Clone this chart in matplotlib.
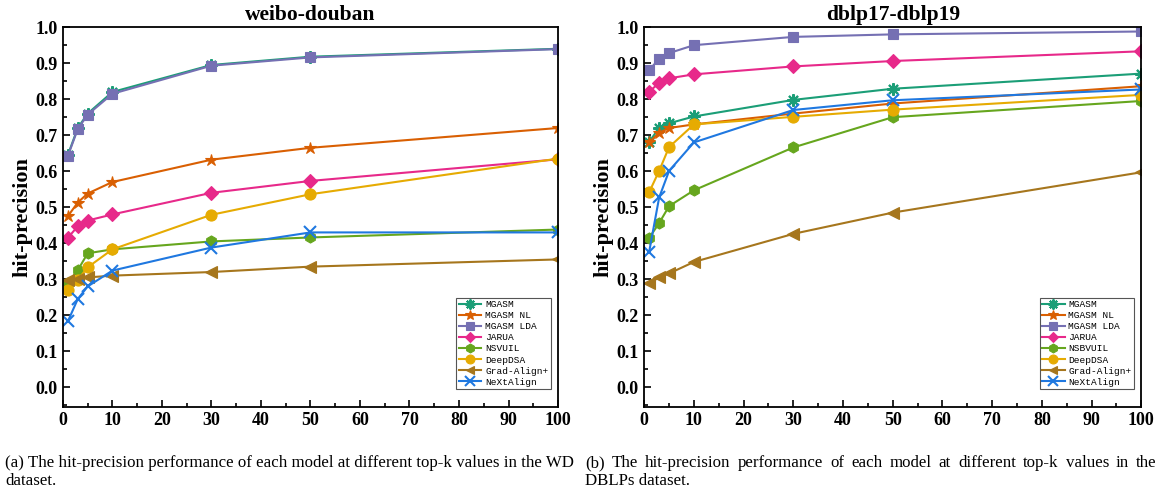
import matplotlib
matplotlib.use("Agg")
import matplotlib.pyplot as plt
from matplotlib.ticker import MultipleLocator, FormatStrFormatter

topk = [1, 3, 5, 10, 30, 50, 100]

wd_labels = ["MGASM", "MGASM NL", "MGASM LDA", "JARUA", "NSVUIL", "DeepDSA", "Grad-Align+", "NeXtAlign"]
wd_mgasm = [0.645, 0.720, 0.760, 0.820, 0.895, 0.918, 0.940]
wd_mgasm_nl = [0.475, 0.513, 0.538, 0.570, 0.632, 0.665, 0.720]
wd_mgasm_lda = [0.642, 0.717, 0.757, 0.815, 0.893, 0.916, 0.939]
wd_jarua = [0.415, 0.447, 0.463, 0.480, 0.540, 0.573, 0.633]
wd_nsvuil = [0.290, 0.325, 0.372, 0.383, 0.405, 0.416, 0.438]
wd_deepdsa = [0.270, 0.298, 0.333, 0.383, 0.479, 0.536, 0.635]
wd_grad = [0.298, 0.301, 0.305, 0.310, 0.320, 0.335, 0.355]
wd_next = [0.183, 0.245, 0.280, 0.324, 0.388, 0.430, 0.430]

db_labels = ["MGASM", "MGASM NL", "MGASM LDA", "JARUA", "NSBVUIL", "DeepDSA", "Grad-Align+", "NeXtAlign"]
db_mgasm = [0.682, 0.720, 0.733, 0.752, 0.798, 0.829, 0.871]
db_mgasm_nl = [0.680, 0.707, 0.720, 0.730, 0.760, 0.788, 0.836]
db_mgasm_lda = [0.882, 0.911, 0.928, 0.950, 0.973, 0.980, 0.988]
db_jarua = [0.821, 0.845, 0.858, 0.869, 0.891, 0.906, 0.933]
db_nsbvuil = [0.415, 0.456, 0.503, 0.547, 0.666, 0.750, 0.795]
db_deepdsa = [0.542, 0.601, 0.667, 0.730, 0.751, 0.771, 0.812]
db_grad = [0.289, 0.305, 0.316, 0.348, 0.426, 0.485, 0.597]
db_next = [0.377, 0.527, 0.601, 0.680, 0.770, 0.797, 0.827]

caption_a = ["(a) The hit-precision performance of each model at different top-k values in the WD", "dataset."]
caption_b = ["(b) The hit-precision performance of each model at different top-k values in the", "DBLPs dataset."]

colors = ["#1b9e77", "#d95f02", "#7570b3", "#e7298a", "#66a61e", "#e6ab02", "#a6761d", "#1f78e0"]
markers = [(8, 2, 0), "*", "s", "D", "h", "o", "<", "x"]
msizes = [9, 9, 7, 7, 8, 8, 8, 9]

plt.rcParams['font.family'] = ['Liberation Serif', 'DejaVu Serif']

fig = plt.figure(figsize=(11.65, 4.94), dpi=100)
ax1 = fig.add_axes([0.054, 0.176, 0.425, 0.769])
ax2 = fig.add_axes([0.553, 0.176, 0.4266, 0.769])

panels = [
    (ax1, "weibo-douban", wd_labels, [wd_mgasm, wd_mgasm_nl, wd_mgasm_lda, wd_jarua, wd_nsvuil, wd_deepdsa, wd_grad, wd_next]),
    (ax2, "dblp17-dblp19", db_labels, [db_mgasm, db_mgasm_nl, db_mgasm_lda, db_jarua, db_nsbvuil, db_deepdsa, db_grad, db_next]),
]

for ax, title, labels, series in panels:
    for lab, ys, c, m, ms in zip(labels, series, colors, markers, msizes):
        ax.plot(topk, ys, color=c, marker=m, markersize=ms, linewidth=1.5,
                markeredgewidth=1.5 if m in ("x", (8, 2, 0)) else 0.8, label=lab)
    ax.set_xlim(0, 100)
    ax.set_ylim(-0.055, 1.0)
    ax.xaxis.set_major_locator(MultipleLocator(10))
    ax.xaxis.set_minor_locator(MultipleLocator(5))
    ax.yaxis.set_major_locator(MultipleLocator(0.1))
    ax.yaxis.set_minor_locator(MultipleLocator(0.05))
    ax.tick_params(which="both", direction="in", top=False, right=False, width=1.2)
    ax.tick_params(which="major", length=5, labelsize=13)
    ax.tick_params(which="minor", length=3)
    ax.tick_params(axis="y", pad=4)
    ax.yaxis.set_major_formatter(FormatStrFormatter("%.1f"))
    for lbl in ax.get_xticklabels() + ax.get_yticklabels():
        lbl.set_fontweight("bold")
    for sp in ax.spines.values():
        sp.set_linewidth(1.3)
    ax.set_title(title, fontsize=15.5, fontweight="bold", pad=5)
    ax.set_ylabel("hit-precision", fontsize=16, fontweight="bold", labelpad=2)
    leg = ax.legend(loc="lower right", bbox_to_anchor=(0.995, 0.035),
                    prop={"family": "Liberation Mono", "size": 6.8},
                    fancybox=False, edgecolor="#555555", framealpha=1,
                    handlelength=2.4, handletextpad=0.4, labelspacing=0.22,
                    borderpad=0.25, markerscale=0.8)
    leg.get_frame().set_linewidth(0.8)

cap_fs = 12.2
y1 = 1 - 463 / 494
y2 = 1 - 481 / 494

fig.text(5 / 1165, y1, caption_a[0], fontsize=cap_fs, ha="left", va="center")
fig.text(5 / 1165, y2, caption_a[1], fontsize=cap_fs, ha="left", va="center")

# justified first line for caption (b)
fig.canvas.draw()
renderer = fig.canvas.get_renderer()
words = caption_b[0].split(" ")
x_start, x_end = 585, 1157
widths = []
for w in words:
    t = fig.text(0, 0, w, fontsize=cap_fs)
    bb = t.get_window_extent(renderer=renderer)
    widths.append(bb.width)
    t.remove()
gap = (x_end - x_start - sum(widths)) / (len(words) - 1)
x = x_start
for w, wd in zip(words, widths):
    fig.text(x / 1165, y1, w, fontsize=cap_fs, ha="left", va="center")
    x += wd + gap
fig.text(x_start / 1165, y2, caption_b[1], fontsize=cap_fs, ha="left", va="center")

fig.savefig("out.png", dpi=100)
